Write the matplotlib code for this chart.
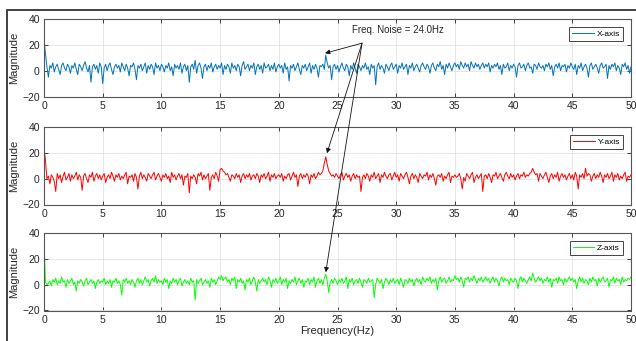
import numpy as np
import matplotlib
matplotlib.use('Agg')
import matplotlib.pyplot as plt
from matplotlib.patches import Rectangle

plt.rcParams['font.family'] = ['Liberation Sans', 'DejaVu Sans']

# Спектры по осям (шаг 0.125 Гц)
x_axis_mag = [
    25, 13, 3, -5, 4, 2, 6, -1, 3, 5, 1, -3, 4, 6, 2, 0, 5, 3, -2, 4,
    2, 6, 1, -3, 5, 3, 0, 4, 7, 2, -1, 4, -9, 3, 5, 1, 4, -2, 6, 3,
    -10, 2, 5, 0, 4, 6, 1, -3, 3, 5, 2, 4, -1, 6, 3, 0, 5, 2, -4, 4,
    3, 6, 1, -7, 4, 2, 5, 0, 3, 6, -2, 4, 1, 5, 3, -3, 6, 2, 4, 0,
    5, 3, -1, 4, 2, 6, 0, 3, -4, 5, 2, 4, 1, 6, -2, 3, 5, 0, 4, -9,
    3, 5, 1, 8, -2, 4, 6, 2, -6, 3, 5, 0, 4, 2, 6, -1, 3, 5, 1, 4,
    2, 6, -3, 4, 1, 5, 3, -2, 6, 2, 4, 0, 5, 3, -4, 4, 7, 1, 3, 5,
    0, 4, 2, 6, -3, 3, 5, 1, 4, -2, 6, 2, 3, 5, 0, 4, 1, 6, -1, 3,
    5, 2, 4, -2, 6, 1, 3, -8, 4, 2, 5, 0, 3, 6, 1, -3, 4, 2, 5, 0,
    3, 6, -2, 4, 1, 5, 2, -5, 4, 3, 5, 1, 12, 6, 2, 4, -7, 3, 5, 1,
    4, -1, 3, 6, 2, 0, 5, 3, -4, 4, 1, 6, 2, -2, 5, 3, 0, 4, 2, 6,
    1, 3, -3, 5, 2, 4, -11, 3, 6, 1, 4, 2, -2, 5, 3, 0, 4, 6, 1, 3,
    5, -2, 4, 2, 6, 1, 3, 5, -3, 4, 2, 6, 0, 3, 5, 2, -1, 4, 6, 3,
    1, 5, 3, -2, 4, 6, 2, 0, 5, 3, 7, 1, 4, -3, 5, 2, 6, 3, 0, 4,
    6, 3, 5, 1, 7, 4, 2, 6, 3, 5, 0, 7, 4, 2, 6, 3, 5, 1, 4, 6,
    2, 5, 3, 6, -1, 4, 2, 5, 3, 6, 1, 4, -3, 5, 2, 3, 6, 0, 4, 2,
    5, 3, -5, 4, 6, 2, 3, 5, 0, 4, 6, 2, 3, -2, 5, 4, 1, 6, 3, 2,
    4, 0, 5, 3, 6, 1, 4, -4, 3, 5, 2, 6, 0, 4, 3, 5, -1, 4, 2, 6,
    3, 1, 5, -3, 4, 2, 6, 0, 3, 5, 2, -5, 4, 6, 1, 3, 5, 2, -2, 4,
    6, 2, 3, 5, -6, 4, 1, 5, 3, 6, 0, 4, 2, -3, 5, 3, 6, 1, 4, -2,
    3,
]

y_axis_mag = [
    25, 14, 0, 2, -4, 3, 1, -2, -10, 4, 0, 3, -3, 2, 5, -1, 1, 4, -2, 3,
    0, 2, 5, -1, 3, 1, -9, 2, 4, 0, -3, 3, 1, 5, -2, 2, 4, 0, 3, -1,
    2, 4, -3, 1, 3, 0, 5, 2, -2, 3, 1, 4, -1, 2, 0, 3, 5, -4, 2, 1,
    3, -2, 4, 1, -8, 2, 5, 0, 3, 1, -2, 4, 2, 0, 3, 5, -1, 2, 4, 1,
    -2, 3, 1, 4, 0, 2, -3, 5, 1, 3, -1, 2, 4, 0, 3, -5, 2, 1, 4, -11,
    2, 0, 3, 1, -4, 4, 2, 5, -1, 3, 0, 2, 4, -9, 1, 3, 0, 5, 2, -2,
    7, 8, 6, 5, 3, 4, 1, -2, 3, 2, 0, 4, 1, 3, -3, 2, 4, 0, 3, 1,
    4, -1, 2, 3, 0, 4, 2, -3, 3, 1, 4, 0, 2, 5, -2, 3, 1, 4, 0, 2,
    3, 1, 4, -2, 2, 0, 3, 4, -1, 2, 5, 1, 3, -6, 2, 4, 0, 3, 1, 4,
    2, -4, 3, 1, 4, 0, 2, 5, 3, 4, 6, 12, 17, 11, 6, 4, 2, 3, 1, 4,
    2, 0, 3, 5, -1, 2, 4, 1, 3, -2, 2, 4, 0, 3, 1, 2, -10, 1, 3, 0,
    4, 2, -2, 3, 1, 5, 0, 2, 4, -3, 3, 1, 5, 2, 0, 3, 4, -1, 2, 5,
    1, 3, -2, 4, 2, 0, 3, 5, 1, -4, 2, 4, 0, 3, 1, -3, 4, 2, 0, 3,
    2, 5, -1, 3, 1, 4, 0, -5, 2, 3, 1, 4, -2, 2, 0, 3, 5, -3, 2, 1,
    3, 1, 2, 4, 0, -8, 1, -2, 4, 2, 0, 3, 5, -3, 1, 3, 0, 2, 4, -10,
    2, 3, 0, 4, 1, -3, 3, 2, 5, 0, 2, 4, 1, -2, 3, 5, 2, 0, 4, 1,
    3, -1, 2, 4, 0, 3, 2, 5, 1, 3, 2, 4, 5, 8, 5, 3, 4, -2, 4, 2,
    0, 3, 5, 1, -3, 2, 4, 0, 3, 1, 5, -2, 2, 4, 1, 3, -1, 2, 4, 0,
    3, -1, 5, 2, -8, 3, 1, 4, 0, 8, 2, 4, 3, -2, 2, 4, 0, 3, 1, 5,
    2, -3, 3, 1, 4, 0, 2, 5, -2, 3, 1, 4, -1, 2, 0, 3, 5, -2, 2, 1,
    3,
]

z_axis_mag = [
    35, 2, 0, 1, 3, -1, 4, 2, 5, 0, 3, 1, 6, 2, 3, -2, 4, 1, 3, 5,
    0, 2, -5, 3, 1, 4, 2, -1, 3, 5, 0, 2, 4, 1, 3, -3, 2, 4, 1, 3,
    2, 5, 0, 3, 1, 4, -2, 3, 2, 5, 1, 3, 0, -8, 4, 2, 5, 1, 3, 0,
    4, 2, -2, 3, 5, 1, 4, 0, 3, 6, 2, 4, -1, 3, 5, 2, 7, 1, 4, 2,
    3, 0, 5, 2, 4, -3, 3, 1, 5, 2, 4, 0, 3, 5, -1, 2, 4, 1, 3, 0,
    5, 2, 3, -12, 4, 1, 3, 5, 0, 2, 4, 1, 3, -2, 5, 2, 4, 0, 3, 6,
    4, 7, 3, 5, 6, 2, 4, 0, 5, 3, 6, -3, 4, 2, 5, 1, 3, -4, 4, 2,
    5, 0, 3, 6, 2, -5, 4, 1, 3, 5, 2, 4, 0, 6, 3, -2, 4, 2, 5, 1,
    3, 6, 0, 4, 2, 5, -3, 3, 1, 4, 2, 6, 0, 3, 5, 1, 4, -2, 3, 2,
    5, 0, 4, 2, 6, -2, 3, 5, 1, 4, 0, 5, 8, 3, -6, 2, 4, 1, 5, 3,
    0, 4, 2, 5, 1, 3, 6, -3, 4, 2, 5, 0, 3, 4, 1, 5, 2, -2, 4, 3,
    1, 5, 2, 3, 4, -10, 0, 5, 3, 1, 4, -3, 2, 5, 3, 0, 4, 2, 5, 1,
    3, 4, 0, 5, 2, -2, 4, 3, 1, 5, 2, 4, -1, 3, 5, 2, 4, 0, 6, 3,
    2, 5, 3, 6, 1, 4, 2, 5, -4, 3, 6, 2, 4, 5, 1, 3, 6, 2, 4, 3,
    7, 4, 5, 2, 6, 3, -2, 5, 4, 6, 2, 5, 3, 7, 4, 1, 5, 3, 6, 2,
    4, 6, 3, 5, 1, 4, 6, 2, 5, 3, -1, 4, 6, 2, 5, 3, 4, 0, 5, 3,
    2, 5, 3, -3, 4, 6, 2, 5, 3, 1, 4, 6, 3, 9, 5, 2, 4, 6, 3, 5,
    1, 4, 3, 6, 2, 5, -2, 4, 3, 5, 1, 6, 3, 4, 0, 5, 2, 4, 6, 3,
    5, 2, 4, -3, 3, 6, 2, 5, 1, 4, 3, 0, 5, 2, 6, 3, 4, -1, 5, 2,
    4, 6, 2, 3, 5, -2, 4, 3, 6, 1, 5, 3, 4, 0, 6, 2, 4, 3, 5, 4,
    6,
]

series = [
    (x_axis_mag, '#0072BD', 'X-axis'),
    (y_axis_mag, '#FF0000', 'Y-axis'),
    (z_axis_mag, '#00FF00', 'Z-axis'),
]
x_ticks = [0, 5, 10, 15, 20, 25, 30, 35, 40, 45, 50]
y_ticks = [-20, 0, 20, 40]
note_text = 'Freq. Noise = 24.0Hz'

W, H = 636, 341
fig = plt.figure(figsize=(W / 100, H / 100), dpi=100)

# рамка вокруг всей фигуры
fig.patches.append(Rectangle((7 / W, -0.05), 1.0, 1 - 10 / H + 0.05,
                             transform=fig.transFigure, fill=False,
                             edgecolor='#333333', lw=1.3, clip_on=False))

tops = [19, 127, 233]
axes = []
for (vals, col, lab), top in zip(series, tops):
    ax = fig.add_axes([44 / W, 1 - (top + 77.5) / H, 587 / W, 77.5 / H])
    freq = np.linspace(0, 50, len(vals))
    ax.plot(freq, vals, color=col, lw=0.7, label=lab)
    ax.set_xlim(0, 50)
    ax.set_ylim(-20, 40)
    ax.set_xticks(x_ticks)
    ax.set_yticks(y_ticks)
    ax.grid(True, color='#e3e3e3', lw=0.6)
    ax.set_axisbelow(True)
    ax.tick_params(direction='in', length=3, width=0.6, top=True, right=True,
                   labelsize=7.5, colors='#262626', pad=3)
    for s in ax.spines.values():
        s.set_color('#555555')
        s.set_linewidth(0.8)
    ax.set_ylabel('Magnitude', fontsize=8, color='#262626', labelpad=2)
    leg = ax.legend(loc='upper right', fontsize=6, fancybox=False,
                    framealpha=1, edgecolor='#444444', handlelength=2.6,
                    borderaxespad=1.0, borderpad=0.35, handletextpad=0.3)
    leg.get_frame().set_linewidth(0.7)
    axes.append(ax)

ax1, ax2, ax3 = axes
ax3.set_xlabel('Frequency(Hz)', fontsize=8, color='#262626', labelpad=1)

# подпись и стрелки на пик 24 Гц
ax1.text(30.15, 31.4, note_text, fontsize=7, ha='center', va='center',
         color='#262626')
tail = (27.09, 21.3)
tips = [(ax1, (23.94, 13.5)), (ax2, (24.1, 19.7)), (ax3, (24.0, 9.6))]
for tax, tip in tips:
    ax3.annotate('', xy=tip, xycoords=tax.transData,
                 xytext=tail, textcoords=ax1.transData,
                 annotation_clip=False,
                 arrowprops=dict(arrowstyle='-|>', color='#111111', lw=0.6,
                                 mutation_scale=7, shrinkA=0, shrinkB=0))

plt.savefig('out.png', dpi=100)
